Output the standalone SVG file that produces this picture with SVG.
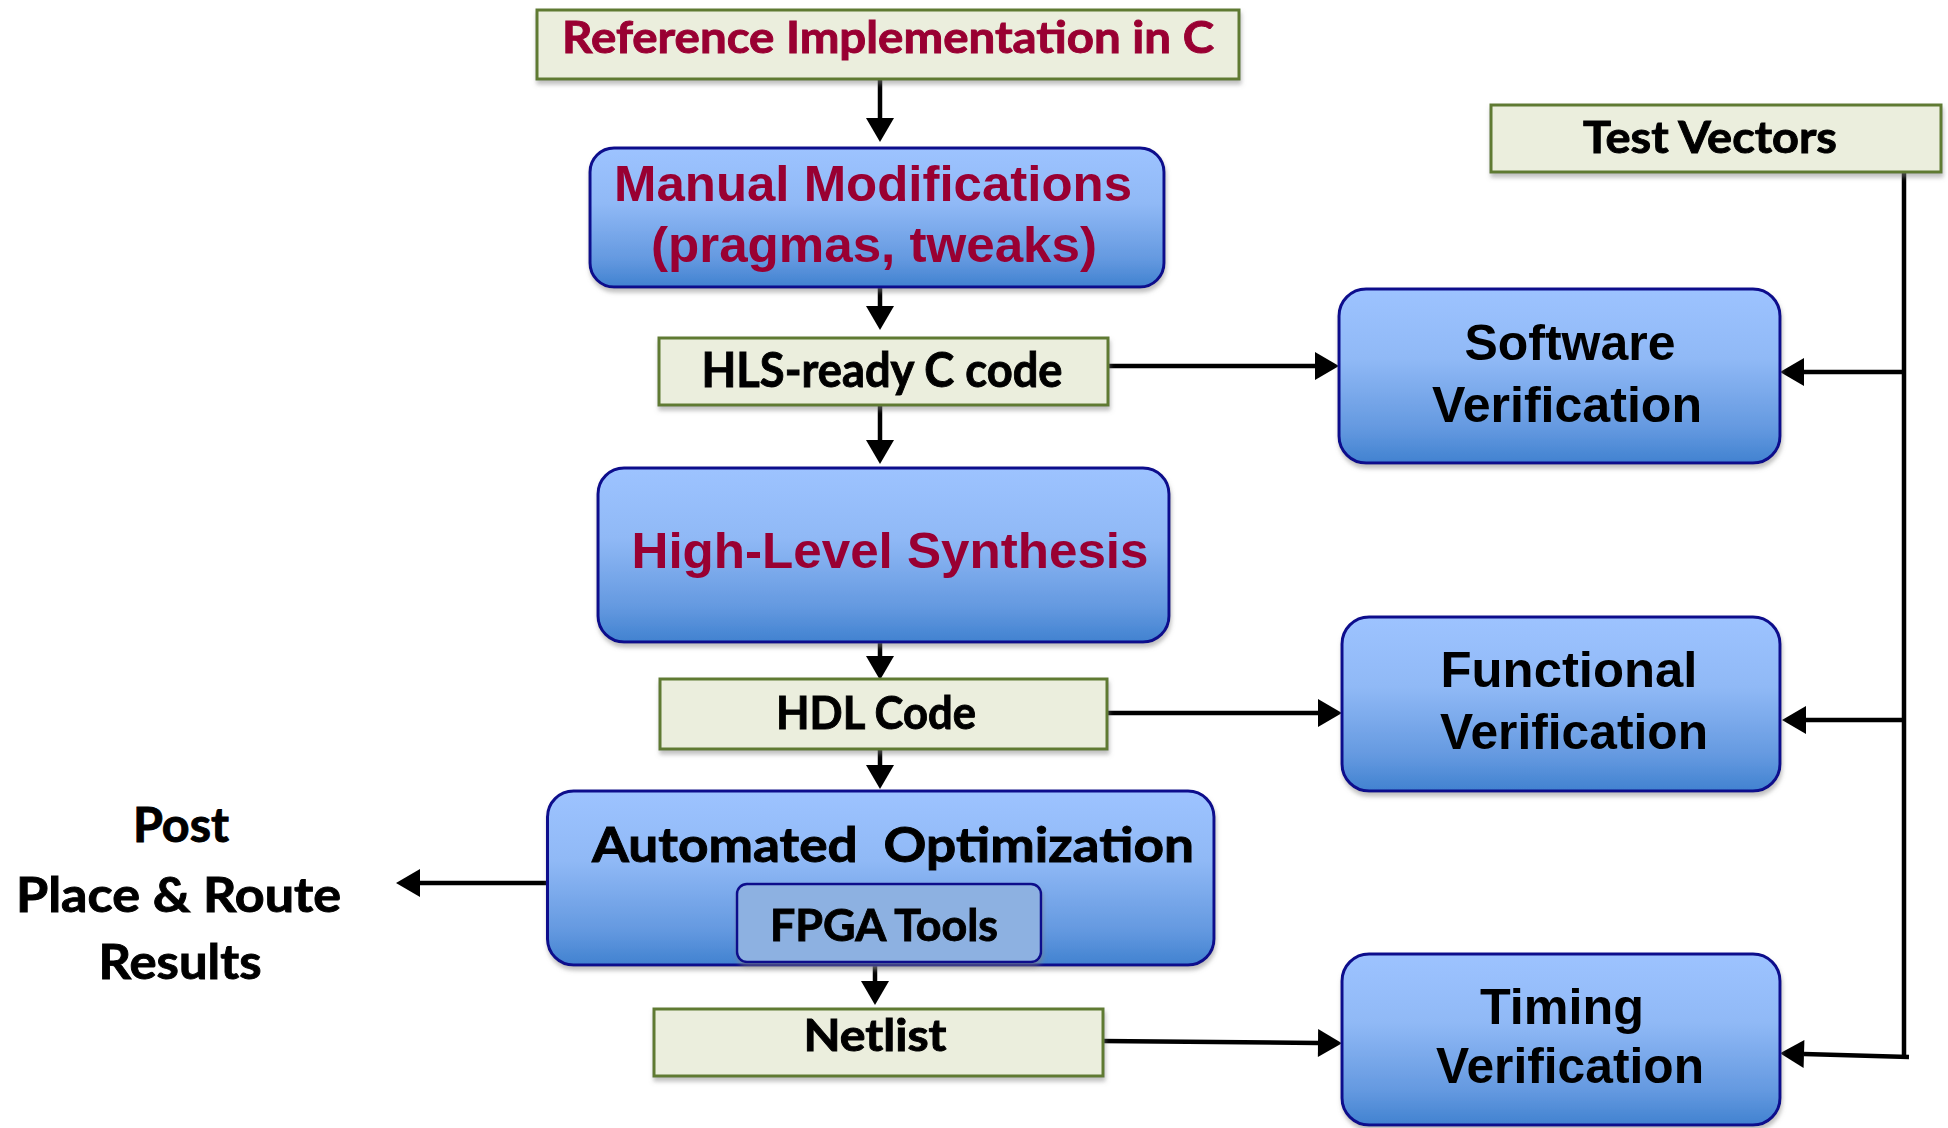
<svg xmlns="http://www.w3.org/2000/svg" width="1948" height="1128" viewBox="0 0 1948 1128">
<style>
.green{fill:#EBEEDD;stroke:#5E7A32;stroke-width:3}
.blue{fill:url(#bg);stroke:#0C0C8C;stroke-width:3}
.fpga{fill:#8DB1E1;stroke:#0C0C8C;stroke-width:2.5}
.cal{font-family:Lato,"Liberation Sans",sans-serif;font-weight:bold;fill:#000;stroke:#000;stroke-width:0.9;text-anchor:middle}
.ari{font-family:"Liberation Sans",Arial,sans-serif;font-weight:bold;font-size:50px;fill:#000;text-anchor:middle}
.red{fill:#990033;stroke:#990033}
.conn{stroke:#000;stroke-width:4.5;fill:none;marker-end:url(#ah)}
.plain{stroke:#000;stroke-width:4.5;fill:none}
</style>
<defs>
<linearGradient id="bg" x1="0" y1="0" x2="0" y2="1">
<stop offset="0" stop-color="#9DC3FF"/>
<stop offset="0.4" stop-color="#90B9F6"/>
<stop offset="0.8" stop-color="#6499E0"/>
<stop offset="1" stop-color="#4182D0"/>
</linearGradient>
<filter id="sh" x="-5%" y="-5%" width="110%" height="120%">
<feDropShadow dx="1" dy="4" stdDeviation="2" flood-color="#808080" flood-opacity="0.5"/>
</filter>
<marker id="ah" markerUnits="userSpaceOnUse" markerWidth="26" markerHeight="28" refX="0" refY="14" orient="auto" overflow="visible">
<path d="M0,0 L24,14 L0,28 z" fill="#000"/>
</marker>
</defs>

<g id="connectors">
<line class="conn" x1="880" y1="80" x2="880" y2="118"/>
<line class="conn" x1="880" y1="287" x2="880" y2="306"/>
<line class="conn" x1="880" y1="405" x2="880" y2="440"/>
<line class="conn" x1="880" y1="642" x2="880" y2="656"/>
<line class="conn" x1="880" y1="749" x2="880" y2="765"/>
<line class="conn" x1="875" y1="962" x2="875" y2="981"/>
<line class="conn" x1="547" y1="883" x2="420" y2="883"/>
<line class="conn" x1="1106" y1="366" x2="1315" y2="366"/>
<line class="conn" x1="1106" y1="713" x2="1318" y2="713"/>
<line class="conn" x1="1102" y1="1041" x2="1318" y2="1043"/>
<line class="plain" x1="1904" y1="166" x2="1904" y2="1057"/>
<line class="conn" x1="1904" y1="372" x2="1804" y2="372"/>
<line class="conn" x1="1904" y1="720" x2="1806" y2="720"/>
<line class="conn" x1="1909" y1="1057" x2="1804" y2="1054"/>
</g>

<g id="ref" filter="url(#sh)">
<rect class="green" x="537" y="10" width="702" height="69"/>
<text class="cal red" x="888" y="53" font-size="43" textLength="652" lengthAdjust="spacingAndGlyphs">Reference Implementation in C</text>
</g>

<g id="manual" filter="url(#sh)">
<rect class="blue" x="590" y="148" width="574" height="139" rx="24"/>
<text class="ari red" x="873" y="201" font-size="51" textLength="518" lengthAdjust="spacingAndGlyphs" stroke-width="0">Manual Modifications</text>
<text class="ari red" x="874" y="262" font-size="51" textLength="446" lengthAdjust="spacingAndGlyphs" stroke-width="0">(pragmas, tweaks)</text>
</g>

<g id="hlsready" filter="url(#sh)">
<rect class="green" x="659" y="338" width="449" height="67"/>
<text class="cal" x="882" y="387" font-size="47" textLength="361" lengthAdjust="spacingAndGlyphs">HLS-ready C code</text>
</g>

<g id="hls" filter="url(#sh)">
<rect class="blue" x="598" y="468" width="571" height="174" rx="26"/>
<text class="ari red" x="890" y="568" font-size="51" textLength="517" lengthAdjust="spacingAndGlyphs" stroke-width="0">High-Level Synthesis</text>
</g>

<g id="hdl" filter="url(#sh)">
<rect class="green" x="660" y="679" width="447" height="70"/>
<text class="cal" x="876" y="729" font-size="45" textLength="200" lengthAdjust="spacingAndGlyphs">HDL Code</text>
</g>

<g id="auto" filter="url(#sh)">
<rect class="blue" x="547.5" y="791" width="666.5" height="174" rx="26"/>
<text class="cal" x="893" y="862" font-size="48" textLength="602" lengthAdjust="spacingAndGlyphs" xml:space="preserve">Automated  Optimization</text>
</g>

<g id="fpga" filter="url(#sh)">
<rect class="fpga" x="737" y="884" width="304" height="78" rx="10"/>
<text class="cal" x="884" y="941" font-size="43" textLength="228" lengthAdjust="spacingAndGlyphs">FPGA Tools</text>
</g>

<g id="netlist" filter="url(#sh)">
<rect class="green" x="654" y="1009" width="449" height="67"/>
<text class="cal" x="875" y="1051" font-size="43" textLength="143" lengthAdjust="spacingAndGlyphs">Netlist</text>
</g>

<g id="post">
<text class="cal" x="181" y="842" font-size="47" textLength="96" lengthAdjust="spacingAndGlyphs">Post</text>
<text class="cal" x="178.5" y="912" font-size="47" textLength="325" lengthAdjust="spacingAndGlyphs">Place &amp; Route</text>
<text class="cal" x="180" y="979" font-size="47" textLength="163" lengthAdjust="spacingAndGlyphs">Results</text>
</g>

<g id="test" filter="url(#sh)">
<rect class="green" x="1491" y="105" width="450" height="67"/>
<text class="cal" x="1710" y="153" font-size="43" textLength="254" lengthAdjust="spacingAndGlyphs">Test Vectors</text>
</g>

<g id="software" filter="url(#sh)">
<rect class="blue" x="1339" y="289" width="441" height="174" rx="27"/>
<text class="ari" x="1570" y="360" textLength="211" lengthAdjust="spacingAndGlyphs">Software</text>
<text class="ari" x="1567" y="422" textLength="270" lengthAdjust="spacingAndGlyphs">Verification</text>
</g>

<g id="functional" filter="url(#sh)">
<rect class="blue" x="1342" y="617" width="438" height="174" rx="27"/>
<text class="ari" x="1569" y="687" textLength="257" lengthAdjust="spacingAndGlyphs">Functional</text>
<text class="ari" x="1574" y="749" textLength="268" lengthAdjust="spacingAndGlyphs">Verification</text>
</g>

<g id="timing" filter="url(#sh)">
<rect class="blue" x="1342" y="954" width="438" height="171" rx="27"/>
<text class="ari" x="1562" y="1024" textLength="164" lengthAdjust="spacingAndGlyphs">Timing</text>
<text class="ari" x="1570" y="1083" textLength="268" lengthAdjust="spacingAndGlyphs">Verification</text>
</g>
</svg>
